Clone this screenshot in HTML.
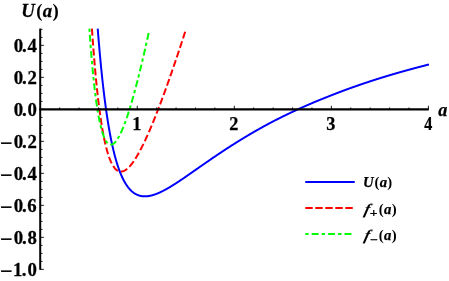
<!DOCTYPE html>
<html><head><meta charset="utf-8"><title>U(a)</title>
<style>
html,body{margin:0;padding:0;background:#fff;}
body{width:449px;height:281px;overflow:hidden;position:relative;font-family:"Liberation Serif",serif;}
</style></head><body>
<svg width="449" height="281" viewBox="0 0 449 281" style="position:absolute;left:0;top:0;will-change:transform">
<rect width="449" height="281" fill="#fff"/>
<g fill="none" stroke-width="2" stroke-linejoin="round">
<path d="M97.72 28.60 L97.87 30.46 L98.11 33.50 L98.35 36.48 L98.59 39.41 L98.83 42.30 L99.07 45.13 L99.31 47.91 L99.55 50.65 L99.79 53.33 L100.03 55.98 L100.27 58.57 L100.51 61.13 L100.75 63.64 L100.99 66.10 L101.23 68.53 L101.47 70.91 L101.71 73.26 L101.95 75.56 L102.19 77.82 L102.43 80.05 L102.67 82.24 L102.91 84.39 L103.15 86.50 L103.39 88.58 L103.63 90.62 L103.87 92.63 L104.11 94.61 L104.35 96.55 L104.59 98.46 L104.83 100.33 L105.07 102.18 L105.31 103.99 L105.55 105.78 L105.79 107.53 L106.03 109.25 L106.27 110.95 L106.51 112.61 L106.75 114.25 L106.99 115.86 L107.23 117.44 L107.47 119.00 L107.71 120.53 L107.95 122.03 L108.18 123.51 L108.42 124.96 L108.66 126.39 L108.90 127.79 L109.14 129.18 L109.38 130.53 L109.62 131.87 L109.86 133.18 L110.10 134.47 L110.34 135.73 L110.58 136.98 L110.82 138.21 L111.06 139.41 L111.30 140.59 L111.54 141.76 L111.78 142.90 L112.02 144.02 L112.26 145.13 L112.50 146.21 L112.74 147.28 L112.98 148.33 L113.22 149.36 L113.46 150.37 L113.70 151.36 L113.94 152.34 L114.18 153.30 L114.42 154.25 L114.66 155.17 L114.90 156.09 L115.14 156.98 L115.38 157.86 L115.62 158.73 L115.86 159.58 L116.10 160.41 L116.34 161.23 L116.58 162.03 L116.82 162.83 L117.06 163.60 L117.30 164.37 L117.54 165.12 L117.78 165.85 L118.02 166.57 L118.26 167.28 L118.50 167.98 L118.74 168.66 L118.98 169.34 L119.22 170.00 L119.46 170.64 L119.70 171.28 L119.94 171.90 L120.18 172.52 L120.42 173.12 L120.66 173.71 L120.90 174.29 L121.14 174.85 L121.38 175.41 L121.62 175.96 L121.86 176.49 L122.10 177.02 L122.34 177.54 L122.58 178.04 L122.82 178.54 L123.06 179.03 L123.30 179.50 L123.54 179.97 L123.78 180.43 L124.02 180.88 L124.26 181.32 L124.50 181.75 L124.74 182.18 L124.98 182.59 L125.22 183.00 L125.46 183.40 L125.70 183.79 L125.94 184.17 L126.18 184.54 L126.42 184.91 L126.66 185.26 L126.90 185.61 L127.14 185.96 L127.38 186.29 L127.62 186.62 L127.86 186.94 L128.10 187.26 L128.34 187.56 L128.58 187.86 L128.82 188.16 L129.06 188.44 L129.30 188.72 L129.54 189.00 L129.78 189.26 L130.02 189.53 L130.26 189.78 L130.50 190.03 L130.74 190.27 L130.98 190.51 L131.22 190.74 L131.46 190.96 L131.70 191.18 L131.94 191.39 L132.18 191.60 L132.42 191.80 L132.66 192.00 L132.90 192.19 L133.14 192.38 L133.38 192.56 L133.62 192.74 L133.86 192.91 L134.10 193.07 L134.34 193.23 L134.58 193.39 L134.82 193.54 L135.06 193.69 L135.30 193.83 L135.54 193.97 L135.78 194.10 L136.02 194.23 L136.26 194.35 L136.50 194.47 L136.74 194.59 L136.98 194.70 L137.22 194.81 L137.46 194.91 L137.70 195.01 L137.94 195.11 L138.18 195.20 L138.42 195.28 L138.66 195.37 L138.90 195.45 L139.14 195.52 L139.38 195.60 L139.62 195.66 L139.86 195.73 L140.10 195.79 L140.34 195.85 L140.58 195.91 L140.82 195.96 L141.06 196.00 L141.30 196.05 L141.54 196.09 L141.78 196.13 L142.02 196.17 L142.26 196.20 L142.50 196.23 L142.74 196.25 L142.98 196.28 L143.22 196.30 L143.46 196.31 L143.70 196.33 L143.94 196.34 L144.18 196.35 L144.42 196.36 L144.66 196.36 L144.90 196.36 L145.14 196.36 L145.38 196.35 L145.62 196.35 L145.86 196.34 L146.10 196.33 L146.34 196.31 L146.58 196.29 L146.82 196.28 L147.05 196.25 L147.29 196.23 L147.53 196.20 L147.77 196.18 L148.01 196.15 L148.25 196.11 L148.49 196.08 L148.73 196.04 L148.97 196.00 L149.21 195.96 L149.45 195.92 L149.69 195.87 L149.93 195.82 L150.17 195.77 L150.41 195.72 L150.65 195.67 L150.89 195.62 L151.13 195.56 L151.37 195.50 L151.61 195.44 L151.85 195.38 L152.09 195.31 L152.33 195.25 L152.57 195.18 L152.81 195.11 L153.05 195.04 L153.29 194.97 L153.53 194.89 L153.77 194.82 L154.01 194.74 L154.25 194.66 L154.49 194.58 L154.73 194.50 L154.97 194.42 L155.21 194.33 L155.45 194.24 L155.69 194.16 L155.93 194.07 L156.17 193.98 L156.41 193.89 L156.65 193.79 L156.89 193.70 L157.13 193.60 L157.37 193.51 L157.61 193.41 L157.85 193.31 L158.09 193.21 L158.33 193.10 L158.57 193.00 L158.81 192.90 L159.05 192.79 L159.29 192.68 L159.53 192.58 L159.77 192.47 L160.01 192.36 L160.25 192.25 L160.49 192.13 L160.73 192.02 L160.97 191.91 L161.21 191.79 L161.45 191.67 L161.69 191.56 L161.93 191.44 L162.17 191.32 L162.41 191.20 L162.65 191.08 L162.89 190.96 L163.13 190.83 L163.37 190.71 L163.61 190.58 L163.85 190.46 L164.09 190.33 L164.33 190.20 L164.57 190.08 L164.81 189.95 L165.05 189.82 L165.29 189.69 L165.53 189.56 L165.77 189.42 L166.01 189.29 L166.25 189.16 L166.49 189.02 L166.73 188.89 L166.97 188.75 L167.21 188.62 L167.45 188.48 L167.69 188.34 L167.93 188.21 L168.17 188.07 L168.41 187.93 L168.65 187.79 L168.89 187.65 L169.13 187.51 L169.37 187.37 L169.61 187.22 L169.85 187.08 L170.09 186.94 L170.33 186.79 L170.57 186.65 L170.81 186.50 L171.05 186.36 L171.29 186.21 L171.53 186.07 L171.77 185.92 L172.01 185.77 L172.25 185.62 L172.49 185.47 L172.73 185.33 L172.97 185.18 L173.21 185.03 L173.45 184.88 L173.69 184.72 L173.93 184.57 L174.17 184.42 L174.41 184.27 L174.65 184.12 L174.89 183.96 L175.13 183.81 L175.37 183.66 L175.61 183.50 L175.85 183.35 L176.09 183.19 L176.33 183.04 L176.57 182.88 L176.81 182.72 L177.05 182.57 L177.29 182.41 L177.53 182.25 L177.77 182.10 L178.01 181.94 L178.25 181.78 L178.49 181.62 L178.73 181.46 L178.97 181.30 L179.21 181.15 L179.45 180.99 L179.69 180.83 L179.93 180.67 L180.17 180.51 L180.41 180.34 L180.65 180.18 L180.89 180.02 L181.13 179.86 L181.37 179.70 L181.61 179.54 L181.85 179.38 L182.09 179.21 L182.33 179.05 L182.57 178.89 L182.81 178.72 L183.05 178.56 L183.29 178.40 L183.53 178.23 L183.77 178.07 L184.01 177.91 L184.25 177.74 L184.49 177.58 L184.73 177.41 L184.97 177.25 L185.21 177.08 L185.45 176.92 L185.69 176.75 L185.92 176.59 L186.16 176.42 L186.40 176.26 L186.64 176.09 L186.88 175.93 L187.12 175.76 L187.36 175.59 L187.60 175.43 L187.84 175.26 L188.08 175.09 L188.32 174.93 L188.56 174.76 L188.80 174.59 L189.04 174.43 L189.28 174.26 L189.52 174.09 L189.76 173.93 L190.00 173.76 L190.24 173.59 L190.48 173.42 L190.72 173.26 L190.96 173.09 L191.20 172.92 L191.44 172.75 L191.68 172.59 L191.92 172.42 L192.16 172.25 L192.40 172.08 L192.64 171.91 L192.88 171.75 L193.12 171.58 L193.36 171.41 L193.60 171.24 L193.84 171.07 L194.08 170.90 L194.32 170.74 L194.56 170.57 L194.80 170.40 L195.04 170.23 L195.28 170.06 L195.52 169.90 L195.76 169.73 L196.00 169.56 L196.24 169.39 L196.48 169.23 L196.72 169.06 L196.96 168.89 L197.20 168.72 L197.44 168.56 L197.68 168.39 L197.92 168.22 L198.16 168.05 L198.40 167.89 L198.64 167.72 L198.88 167.55 L199.12 167.38 L199.36 167.22 L199.60 167.05 L199.84 166.88 L200.08 166.72 L200.32 166.55 L200.56 166.38 L200.80 166.21 L201.04 166.05 L201.28 165.88 L201.52 165.71 L201.76 165.55 L202.00 165.38 L202.24 165.21 L202.48 165.05 L202.72 164.88 L202.96 164.71 L203.20 164.55 L203.44 164.38 L203.68 164.21 L203.92 164.05 L204.16 163.88 L204.40 163.71 L204.64 163.55 L204.88 163.38 L205.12 163.21 L205.36 163.05 L205.60 162.88 L205.84 162.72 L206.08 162.55 L206.32 162.38 L206.56 162.22 L206.80 162.05 L207.04 161.89 L207.28 161.72 L207.52 161.56 L207.76 161.39 L208.00 161.23 L208.24 161.06 L208.48 160.90 L208.72 160.73 L208.96 160.57 L209.20 160.40 L209.44 160.24 L209.68 160.07 L209.92 159.91 L210.16 159.74 L210.40 159.58 L210.64 159.41 L210.88 159.25 L211.12 159.09 L211.36 158.92 L211.60 158.76 L211.84 158.59 L212.08 158.43 L212.32 158.27 L212.56 158.10 L212.80 157.94 L213.04 157.78 L213.28 157.61 L213.52 157.45 L213.76 157.29 L214.00 157.12 L214.24 156.96 L214.48 156.80 L214.72 156.64 L214.96 156.47 L215.20 156.31 L215.44 156.15 L215.68 155.99 L215.92 155.83 L216.16 155.66 L216.40 155.50 L216.64 155.34 L216.88 155.18 L217.12 155.02 L217.36 154.86 L217.60 154.70 L217.84 154.54 L218.08 154.38 L218.32 154.21 L218.56 154.05 L218.80 153.89 L219.04 153.73 L219.28 153.57 L219.52 153.41 L219.76 153.25 L220.00 153.09 L220.24 152.93 L220.48 152.78 L220.72 152.62 L220.96 152.46 L221.20 152.30 L221.44 152.14 L221.68 151.98 L221.92 151.82 L222.16 151.66 L222.40 151.50 L222.64 151.34 L222.88 151.18 L223.12 151.03 L223.36 150.87 L223.60 150.71 L223.84 150.55 L224.08 150.39 L224.32 150.23 L224.55 150.08 L224.79 149.92 L225.03 149.76 L225.27 149.60 L225.51 149.45 L225.75 149.29 L225.99 149.13 L226.23 148.98 L226.47 148.82 L226.71 148.66 L226.95 148.51 L227.19 148.35 L227.43 148.19 L227.67 148.04 L227.91 147.88 L228.15 147.73 L228.39 147.57 L228.63 147.42 L228.87 147.26 L229.11 147.11 L229.35 146.95 L229.59 146.80 L229.83 146.64 L230.07 146.49 L230.31 146.33 L230.55 146.18 L230.79 146.02 L231.03 145.87 L231.27 145.72 L231.51 145.56 L231.75 145.41 L231.99 145.26 L232.23 145.10 L232.47 144.95 L232.71 144.80 L232.95 144.65 L233.19 144.49 L233.43 144.34 L233.67 144.19 L233.91 144.04 L234.15 143.89 L234.39 143.73 L234.63 143.58 L234.87 143.43 L235.11 143.28 L235.35 143.13 L235.59 142.98 L235.83 142.83 L236.07 142.68 L236.31 142.53 L236.55 142.38 L236.79 142.23 L237.03 142.08 L237.27 141.93 L237.51 141.78 L237.75 141.63 L237.99 141.48 L238.23 141.33 L238.47 141.18 L238.71 141.03 L238.95 140.88 L239.19 140.74 L239.43 140.59 L239.67 140.44 L239.91 140.29 L240.15 140.14 L240.39 140.00 L240.63 139.85 L240.87 139.70 L241.11 139.55 L241.35 139.41 L241.59 139.26 L241.83 139.11 L242.07 138.97 L242.31 138.82 L242.55 138.68 L242.79 138.53 L243.03 138.38 L243.27 138.24 L243.51 138.09 L243.75 137.95 L243.99 137.80 L244.23 137.66 L244.47 137.51 L244.71 137.37 L244.95 137.22 L245.19 137.08 L245.43 136.93 L245.67 136.79 L245.91 136.65 L246.15 136.50 L246.39 136.36 L246.63 136.22 L246.87 136.07 L247.11 135.93 L247.35 135.79 L247.59 135.65 L247.83 135.50 L248.07 135.36 L248.31 135.22 L248.55 135.08 L248.79 134.93 L249.03 134.79 L249.27 134.65 L249.51 134.51 L249.75 134.37 L249.99 134.23 L250.23 134.09 L250.47 133.95 L250.71 133.81 L250.95 133.67 L251.19 133.53 L251.43 133.39 L251.67 133.25 L251.91 133.11 L252.15 132.97 L252.39 132.83 L252.63 132.69 L252.87 132.55 L253.11 132.41 L253.35 132.27 L253.59 132.13 L253.83 131.99 L254.07 131.86 L254.31 131.72 L254.55 131.58 L254.79 131.44 L255.03 131.31 L255.27 131.17 L255.51 131.03 L255.75 130.89 L255.99 130.76 L256.23 130.62 L256.47 130.48 L256.71 130.35 L256.95 130.21 L257.19 130.08 L257.43 129.94 L257.67 129.80 L257.91 129.67 L258.15 129.53 L258.39 129.40 L258.63 129.26 L258.87 129.13 L259.11 128.99 L259.35 128.86 L259.59 128.72 L259.83 128.59 L260.07 128.46 L260.31 128.32 L260.55 128.19 L260.79 128.05 L261.03 127.92 L261.27 127.79 L261.51 127.65 L261.75 127.52 L261.99 127.39 L262.23 127.26 L262.47 127.12 L262.71 126.99 L262.95 126.86 L263.19 126.73 L263.42 126.60 L263.66 126.46 L263.90 126.33 L264.14 126.20 L264.38 126.07 L264.62 125.94 L264.86 125.81 L265.10 125.68 L265.34 125.55 L265.58 125.42 L265.82 125.29 L266.06 125.16 L266.30 125.03 L266.54 124.90 L266.78 124.77 L267.02 124.64 L267.26 124.51 L267.50 124.38 L267.74 124.25 L267.98 124.12 L268.22 123.99 L268.46 123.87 L268.70 123.74 L268.94 123.61 L269.18 123.48 L269.42 123.35 L269.66 123.23 L269.90 123.10 L270.14 122.97 L270.38 122.84 L270.62 122.72 L270.86 122.59 L271.10 122.47 L271.34 122.34 L271.58 122.21 L271.82 122.09 L272.06 121.96 L272.30 121.84 L272.54 121.71 L272.78 121.59 L273.02 121.46 L273.26 121.34 L273.50 121.21 L273.74 121.09 L273.98 120.97 L274.22 120.84 L274.46 120.72 L274.70 120.60 L274.94 120.47 L275.18 120.35 L275.42 120.23 L275.66 120.10 L275.90 119.98 L276.14 119.86 L276.38 119.73 L276.62 119.61 L276.86 119.49 L277.10 119.37 L277.34 119.25 L277.58 119.12 L277.82 119.00 L278.06 118.88 L278.30 118.76 L278.54 118.64 L278.78 118.52 L279.02 118.40 L279.26 118.28 L279.50 118.15 L279.74 118.03 L279.98 117.91 L280.22 117.79 L280.46 117.67 L280.70 117.55 L280.94 117.43 L281.18 117.32 L281.42 117.20 L281.66 117.08 L281.90 116.96 L282.14 116.84 L282.38 116.72 L282.62 116.60 L282.86 116.48 L283.10 116.36 L283.34 116.25 L283.58 116.13 L283.82 116.01 L284.06 115.89 L284.30 115.78 L284.54 115.66 L284.78 115.54 L285.02 115.42 L285.26 115.31 L285.50 115.19 L285.74 115.07 L285.98 114.96 L286.22 114.84 L286.46 114.72 L286.70 114.61 L286.94 114.49 L287.18 114.38 L287.42 114.26 L287.66 114.15 L287.90 114.03 L288.14 113.91 L288.38 113.80 L288.62 113.68 L288.86 113.57 L289.10 113.46 L289.34 113.34 L289.58 113.23 L289.82 113.11 L290.06 113.00 L290.30 112.88 L290.54 112.77 L290.78 112.66 L291.02 112.54 L291.26 112.43 L291.50 112.32 L291.74 112.20 L291.98 112.09 L292.22 111.98 L292.46 111.87 L292.70 111.75 L292.94 111.64 L293.18 111.53 L293.42 111.42 L293.66 111.30 L293.90 111.19 L294.14 111.08 L294.38 110.97 L294.62 110.86 L294.86 110.75 L295.10 110.64 L295.34 110.52 L295.58 110.41 L295.82 110.30 L296.06 110.19 L296.30 110.08 L296.54 109.97 L296.78 109.86 L297.02 109.75 L297.26 109.64 L297.50 109.53 L297.74 109.42 L297.98 109.31 L298.22 109.20 L298.46 109.10 L298.70 108.99 L298.94 108.88 L299.18 108.77 L299.42 108.66 L299.66 108.55 L299.90 108.44 L300.14 108.34 L300.38 108.23 L300.62 108.12 L300.86 108.01 L301.10 107.90 L301.34 107.80 L301.58 107.69 L301.82 107.58 L302.06 107.47 L302.29 107.37 L302.53 107.26 L302.77 107.15 L303.01 107.05 L303.25 106.94 L303.49 106.83 L303.73 106.73 L303.97 106.62 L304.21 106.52 L304.45 106.41 L304.69 106.31 L304.93 106.20 L305.17 106.09 L305.41 105.99 L305.65 105.88 L305.89 105.78 L306.13 105.67 L306.37 105.57 L306.61 105.46 L306.85 105.36 L307.09 105.26 L307.33 105.15 L307.57 105.05 L307.81 104.94 L308.05 104.84 L308.29 104.74 L308.53 104.63 L308.77 104.53 L309.01 104.43 L309.25 104.32 L309.49 104.22 L309.73 104.12 L309.97 104.01 L310.21 103.91 L310.45 103.81 L310.69 103.71 L310.93 103.60 L311.17 103.50 L311.41 103.40 L311.65 103.30 L311.89 103.20 L312.13 103.10 L312.37 102.99 L312.61 102.89 L312.85 102.79 L313.09 102.69 L313.33 102.59 L313.57 102.49 L313.81 102.39 L314.05 102.29 L314.29 102.19 L314.53 102.09 L314.77 101.99 L315.01 101.89 L315.25 101.79 L315.49 101.69 L315.73 101.59 L315.97 101.49 L316.21 101.39 L316.45 101.29 L316.69 101.19 L316.93 101.09 L317.17 100.99 L317.41 100.89 L317.65 100.79 L317.89 100.69 L318.13 100.60 L318.37 100.50 L318.61 100.40 L318.85 100.30 L319.09 100.20 L319.33 100.10 L319.57 100.01 L319.81 99.91 L320.05 99.81 L320.29 99.71 L320.53 99.62 L320.77 99.52 L321.01 99.42 L321.25 99.33 L321.49 99.23 L321.73 99.13 L321.97 99.04 L322.21 98.94 L322.45 98.84 L322.69 98.75 L322.93 98.65 L323.17 98.55 L323.41 98.46 L323.65 98.36 L323.89 98.27 L324.13 98.17 L324.37 98.08 L324.61 97.98 L324.85 97.89 L325.09 97.79 L325.33 97.70 L325.57 97.60 L325.81 97.50 L326.05 97.41 L326.29 97.31 L326.53 97.21 L326.77 97.11 L327.01 97.02 L327.25 96.92 L327.49 96.82 L327.73 96.73 L327.97 96.63 L328.21 96.54 L328.45 96.44 L328.69 96.34 L328.93 96.25 L329.17 96.15 L329.41 96.06 L329.65 95.96 L329.89 95.87 L330.13 95.77 L330.37 95.68 L330.61 95.58 L330.85 95.49 L331.09 95.39 L331.33 95.30 L331.57 95.20 L331.81 95.11 L332.05 95.01 L332.29 94.92 L332.53 94.82 L332.77 94.73 L333.01 94.64 L333.25 94.54 L333.49 94.45 L333.73 94.36 L333.97 94.26 L334.21 94.17 L334.45 94.08 L334.69 93.98 L334.93 93.89 L335.17 93.80 L335.41 93.70 L335.65 93.61 L335.89 93.52 L336.13 93.43 L336.37 93.33 L336.61 93.24 L336.85 93.15 L337.09 93.06 L337.33 92.97 L337.57 92.87 L337.81 92.78 L338.05 92.69 L338.29 92.60 L338.53 92.51 L338.77 92.42 L339.01 92.33 L339.25 92.23 L339.49 92.14 L339.73 92.05 L339.97 91.96 L340.21 91.87 L340.45 91.78 L340.69 91.69 L340.92 91.60 L341.16 91.51 L341.40 91.42 L341.64 91.33 L341.88 91.24 L342.12 91.15 L342.36 91.06 L342.60 90.97 L342.84 90.88 L343.08 90.79 L343.32 90.70 L343.56 90.61 L343.80 90.52 L344.04 90.44 L344.28 90.35 L344.52 90.26 L344.76 90.17 L345.00 90.08 L345.24 89.99 L345.48 89.90 L345.72 89.82 L345.96 89.73 L346.20 89.64 L346.44 89.55 L346.68 89.46 L346.92 89.38 L347.16 89.29 L347.40 89.20 L347.64 89.11 L347.88 89.03 L348.12 88.94 L348.36 88.85 L348.60 88.76 L348.84 88.68 L349.08 88.59 L349.32 88.50 L349.56 88.42 L349.80 88.33 L350.04 88.24 L350.28 88.16 L350.52 88.07 L350.76 87.99 L351.00 87.90 L351.24 87.81 L351.48 87.73 L351.72 87.64 L351.96 87.56 L352.20 87.47 L352.44 87.39 L352.68 87.30 L352.92 87.21 L353.16 87.13 L353.40 87.04 L353.64 86.96 L353.88 86.87 L354.12 86.79 L354.36 86.71 L354.60 86.62 L354.84 86.54 L355.08 86.45 L355.32 86.37 L355.56 86.28 L355.80 86.20 L356.04 86.12 L356.28 86.03 L356.52 85.95 L356.76 85.86 L357.00 85.78 L357.24 85.70 L357.48 85.61 L357.72 85.53 L357.96 85.45 L358.20 85.36 L358.44 85.28 L358.68 85.20 L358.92 85.12 L359.16 85.03 L359.40 84.95 L359.64 84.87 L359.88 84.78 L360.12 84.70 L360.36 84.62 L360.60 84.54 L360.84 84.46 L361.08 84.37 L361.32 84.29 L361.56 84.21 L361.80 84.13 L362.04 84.05 L362.28 83.97 L362.52 83.88 L362.76 83.80 L363.00 83.72 L363.24 83.64 L363.48 83.56 L363.72 83.48 L363.96 83.40 L364.20 83.32 L364.44 83.24 L364.68 83.15 L364.92 83.07 L365.16 82.99 L365.40 82.91 L365.64 82.83 L365.88 82.75 L366.12 82.67 L366.36 82.59 L366.60 82.51 L366.84 82.43 L367.08 82.35 L367.32 82.27 L367.56 82.19 L367.80 82.11 L368.04 82.04 L368.28 81.96 L368.52 81.88 L368.76 81.80 L369.00 81.72 L369.24 81.64 L369.48 81.56 L369.72 81.48 L369.96 81.40 L370.20 81.32 L370.44 81.25 L370.68 81.17 L370.92 81.09 L371.16 81.01 L371.40 80.93 L371.64 80.86 L371.88 80.78 L372.12 80.70 L372.36 80.62 L372.60 80.54 L372.84 80.47 L373.08 80.39 L373.32 80.31 L373.56 80.23 L373.80 80.16 L374.04 80.08 L374.28 80.00 L374.52 79.93 L374.76 79.85 L375.00 79.77 L375.24 79.69 L375.48 79.62 L375.72 79.54 L375.96 79.46 L376.20 79.39 L376.44 79.31 L376.68 79.24 L376.92 79.16 L377.16 79.08 L377.40 79.01 L377.64 78.93 L377.88 78.86 L378.12 78.78 L378.36 78.70 L378.60 78.63 L378.84 78.55 L379.08 78.48 L379.32 78.40 L379.56 78.33 L379.79 78.25 L380.03 78.18 L380.27 78.10 L380.51 78.03 L380.75 77.95 L380.99 77.88 L381.23 77.80 L381.47 77.73 L381.71 77.65 L381.95 77.58 L382.19 77.50 L382.43 77.43 L382.67 77.36 L382.91 77.28 L383.15 77.21 L383.39 77.14 L383.63 77.06 L383.87 76.99 L384.11 76.92 L384.35 76.84 L384.59 76.77 L384.83 76.70 L385.07 76.62 L385.31 76.55 L385.55 76.48 L385.79 76.40 L386.03 76.33 L386.27 76.26 L386.51 76.19 L386.75 76.11 L386.99 76.04 L387.23 75.97 L387.47 75.90 L387.71 75.82 L387.95 75.75 L388.19 75.68 L388.43 75.61 L388.67 75.54 L388.91 75.46 L389.15 75.39 L389.39 75.32 L389.63 75.25 L389.87 75.18 L390.11 75.11 L390.35 75.03 L390.59 74.96 L390.83 74.89 L391.07 74.82 L391.31 74.75 L391.55 74.68 L391.79 74.61 L392.03 74.54 L392.27 74.47 L392.51 74.40 L392.75 74.33 L392.99 74.26 L393.23 74.18 L393.47 74.11 L393.71 74.04 L393.95 73.97 L394.19 73.90 L394.43 73.83 L394.67 73.76 L394.91 73.69 L395.15 73.62 L395.39 73.55 L395.63 73.48 L395.87 73.41 L396.11 73.35 L396.35 73.28 L396.59 73.21 L396.83 73.14 L397.07 73.07 L397.31 73.00 L397.55 72.93 L397.79 72.86 L398.03 72.79 L398.27 72.72 L398.51 72.65 L398.75 72.59 L398.99 72.52 L399.23 72.45 L399.47 72.38 L399.71 72.31 L399.95 72.24 L400.19 72.17 L400.43 72.11 L400.67 72.04 L400.91 71.97 L401.15 71.90 L401.39 71.83 L401.63 71.77 L401.87 71.70 L402.11 71.63 L402.35 71.56 L402.59 71.50 L402.83 71.43 L403.07 71.36 L403.31 71.29 L403.55 71.23 L403.79 71.16 L404.03 71.09 L404.27 71.02 L404.51 70.96 L404.75 70.89 L404.99 70.82 L405.23 70.76 L405.47 70.69 L405.71 70.62 L405.95 70.56 L406.19 70.49 L406.43 70.42 L406.67 70.36 L406.91 70.29 L407.15 70.22 L407.39 70.16 L407.63 70.09 L407.87 70.03 L408.11 69.96 L408.35 69.89 L408.59 69.83 L408.83 69.76 L409.07 69.70 L409.31 69.63 L409.55 69.57 L409.79 69.50 L410.03 69.44 L410.27 69.37 L410.51 69.30 L410.75 69.24 L410.99 69.17 L411.23 69.11 L411.47 69.04 L411.71 68.98 L411.95 68.91 L412.19 68.85 L412.43 68.78 L412.67 68.72 L412.91 68.66 L413.15 68.59 L413.39 68.53 L413.63 68.46 L413.87 68.40 L414.11 68.33 L414.35 68.27 L414.59 68.21 L414.83 68.14 L415.07 68.08 L415.31 68.01 L415.55 67.95 L415.79 67.89 L416.03 67.82 L416.27 67.76 L416.51 67.69 L416.75 67.63 L416.99 67.57 L417.23 67.50 L417.47 67.44 L417.71 67.38 L417.95 67.31 L418.19 67.25 L418.43 67.19 L418.66 67.12 L418.90 67.06 L419.14 67.00 L419.38 66.94 L419.62 66.87 L419.86 66.81 L420.10 66.75 L420.34 66.69 L420.58 66.62 L420.82 66.56 L421.06 66.50 L421.30 66.44 L421.54 66.37 L421.78 66.31 L422.02 66.25 L422.26 66.19 L422.50 66.12 L422.74 66.06 L422.98 66.00 L423.22 65.94 L423.46 65.88 L423.70 65.82 L423.94 65.75 L424.18 65.69 L424.42 65.63 L424.66 65.57 L424.90 65.51 L425.14 65.45 L425.38 65.39 L425.62 65.32 L425.86 65.26 L426.10 65.20 L426.34 65.14 L426.58 65.08 L426.82 65.02 L427.06 64.96 L427.30 64.90 L427.54 64.84 L427.78 64.78 L428.02 64.72 L428.26 64.66 L428.50 64.59 L428.74 64.54 L428.98 64.48" stroke="#0000ff"/>
<path d="M91.94 28.60 L92.16 31.87 L92.40 35.35 L92.65 38.76 L92.89 42.09 L93.13 45.36 L93.37 48.56 L93.62 51.69 L93.86 54.75 L94.10 57.75 L94.35 60.69 L94.59 63.56 L94.83 66.38 L95.08 69.13 L95.32 71.83 L95.56 74.46 L95.81 77.05 L96.05 79.57 L96.29 82.05 L96.53 84.47 L96.78 86.84 L97.02 89.15 L97.26 91.42 L97.51 93.64 L97.75 95.81 L97.99 97.94 L98.24 100.02 L98.48 102.05 L98.72 104.04 L98.96 105.99 L99.21 107.89 L99.45 109.75 L99.69 111.57 L99.94 113.35 L100.18 115.09 L100.42 116.79 L100.67 118.46 L100.91 120.08 L101.15 121.67 L101.39 123.23 L101.64 124.74 L101.88 126.23 L102.12 127.68 L102.37 129.09 L102.61 130.48 L102.85 131.83 L103.10 133.15 L103.34 134.44 L103.58 135.70 L103.83 136.92 L104.07 138.12 L104.31 139.29 L104.55 140.43 L104.80 141.55 L105.04 142.63 L105.28 143.69 L105.53 144.73 L105.77 145.73 L106.01 146.71 L106.26 147.67 L106.50 148.60 L106.74 149.51 L106.98 150.39 L107.23 151.25 L107.47 152.09 L107.71 152.90 L107.96 153.69 L108.20 154.46 L108.44 155.21 L108.69 155.94 L108.93 156.65 L109.17 157.33 L109.41 158.00 L109.66 158.64 L109.90 159.27 L110.14 159.88 L110.39 160.47 L110.63 161.04 L110.87 161.59 L111.12 162.12 L111.36 162.64 L111.60 163.14 L111.85 163.62 L112.09 164.09 L112.33 164.54 L112.57 164.97 L112.82 165.39 L113.06 165.79 L113.30 166.17 L113.55 166.54 L113.79 166.90 L114.03 167.24 L114.28 167.56 L114.52 167.87 L114.76 168.17 L115.00 168.46 L115.25 168.73 L115.49 168.98 L115.73 169.23 L115.98 169.46 L116.22 169.67 L116.46 169.88 L116.71 170.07 L116.95 170.25 L117.19 170.42 L117.43 170.57 L117.68 170.72 L117.92 170.85 L118.16 170.97 L118.41 171.08 L118.65 171.18 L118.89 171.27 L119.14 171.35 L119.38 171.42 L119.62 171.47 L119.87 171.52 L120.11 171.56 L120.35 171.59 L120.59 171.60 L120.84 171.61 L121.08 171.61 L121.32 171.60 L121.57 171.58 L121.81 171.55 L122.05 171.51 L122.30 171.46 L122.54 171.40 L122.78 171.34 L123.02 171.27 L123.27 171.18 L123.51 171.09 L123.75 171.00 L124.00 170.89 L124.24 170.78 L124.48 170.65 L124.73 170.53 L124.97 170.39 L125.21 170.24 L125.45 170.09 L125.70 169.93 L125.94 169.77 L126.18 169.60 L126.43 169.42 L126.67 169.23 L126.91 169.04 L127.16 168.84 L127.40 168.63 L127.64 168.42 L127.89 168.20 L128.13 167.97 L128.37 167.74 L128.61 167.50 L128.86 167.25 L129.10 167.00 L129.34 166.75 L129.59 166.49 L129.83 166.22 L130.07 165.94 L130.32 165.67 L130.56 165.38 L130.80 165.09 L131.04 164.79 L131.29 164.49 L131.53 164.19 L131.77 163.88 L132.02 163.56 L132.26 163.24 L132.50 162.91 L132.75 162.58 L132.99 162.24 L133.23 161.90 L133.47 161.56 L133.72 161.21 L133.96 160.85 L134.20 160.49 L134.45 160.13 L134.69 159.76 L134.93 159.39 L135.18 159.01 L135.42 158.63 L135.66 158.24 L135.91 157.85 L136.15 157.46 L136.39 157.06 L136.63 156.66 L136.88 156.25 L137.12 155.84 L137.36 155.43 L137.61 155.01 L137.85 154.59 L138.09 154.16 L138.34 153.73 L138.58 153.30 L138.82 152.87 L139.06 152.43 L139.31 151.98 L139.55 151.53 L139.79 151.08 L140.04 150.63 L140.28 150.17 L140.52 149.71 L140.77 149.25 L141.01 148.78 L141.25 148.31 L141.49 147.84 L141.74 147.36 L141.98 146.88 L142.22 146.40 L142.47 145.91 L142.71 145.42 L142.95 144.93 L143.20 144.44 L143.44 143.94 L143.68 143.44 L143.93 142.94 L144.17 142.43 L144.41 141.92 L144.65 141.41 L144.90 140.89 L145.14 140.38 L145.38 139.86 L145.63 139.33 L145.87 138.81 L146.11 138.28 L146.36 137.75 L146.60 137.22 L146.84 136.68 L147.08 136.15 L147.33 135.60 L147.57 135.06 L147.81 134.52 L148.06 133.97 L148.30 133.42 L148.54 132.87 L148.79 132.31 L149.03 131.76 L149.27 131.20 L149.51 130.64 L149.76 130.07 L150.00 129.51 L150.24 128.94 L150.49 128.37 L150.73 127.80 L150.97 127.22 L151.22 126.65 L151.46 126.07 L151.70 125.49 L151.95 124.91 L152.19 124.32 L152.43 123.73 L152.67 123.15 L152.92 122.56 L153.16 121.96 L153.40 121.37 L153.65 120.77 L153.89 120.18 L154.13 119.58 L154.38 118.97 L154.62 118.37 L154.86 117.77 L155.10 117.16 L155.35 116.55 L155.59 115.94 L155.83 115.33 L156.08 114.71 L156.32 114.10 L156.56 113.48 L156.81 112.86 L157.05 112.24 L157.29 111.62 L157.53 110.99 L157.78 110.37 L158.02 109.74 L158.26 109.11 L158.51 108.48 L158.75 107.85 L158.99 107.21 L159.24 106.58 L159.48 105.94 L159.72 105.30 L159.97 104.66 L160.21 104.02 L160.45 103.38 L160.69 102.73 L160.94 102.09 L161.18 101.44 L161.42 100.79 L161.67 100.14 L161.91 99.49 L162.15 98.84 L162.40 98.18 L162.64 97.53 L162.88 96.87 L163.12 96.21 L163.37 95.55 L163.61 94.89 L163.85 94.23 L164.10 93.56 L164.34 92.90 L164.58 92.23 L164.83 91.56 L165.07 90.89 L165.31 90.22 L165.55 89.55 L165.80 88.88 L166.04 88.20 L166.28 87.53 L166.53 86.85 L166.77 86.17 L167.01 85.50 L167.26 84.81 L167.50 84.13 L167.74 83.45 L167.99 82.77 L168.23 82.08 L168.47 81.39 L168.71 80.71 L168.96 80.02 L169.20 79.33 L169.44 78.64 L169.69 77.95 L169.93 77.25 L170.17 76.56 L170.42 75.86 L170.66 75.17 L170.90 74.47 L171.14 73.77 L171.39 73.07 L171.63 72.37 L171.87 71.67 L172.12 70.96 L172.36 70.26 L172.60 69.56 L172.85 68.85 L173.09 68.14 L173.33 67.43 L173.57 66.72 L173.82 66.01 L174.06 65.30 L174.30 64.59 L174.55 63.88 L174.79 63.16 L175.03 62.45 L175.28 61.73 L175.52 61.01 L175.76 60.29 L176.01 59.57 L176.25 58.85 L176.49 58.13 L176.73 57.41 L176.98 56.69 L177.22 55.96 L177.46 55.24 L177.71 54.51 L177.95 53.79 L178.19 53.06 L178.44 52.33 L178.68 51.60 L178.92 50.87 L179.16 50.14 L179.41 49.40 L179.65 48.67 L179.89 47.94 L180.14 47.20 L180.38 46.46 L180.62 45.73 L180.87 44.99 L181.11 44.25 L181.35 43.51 L181.59 42.77 L181.84 42.03 L182.08 41.28 L182.32 40.54 L182.57 39.80 L182.81 39.05 L183.05 38.31 L183.30 37.56 L183.54 36.81 L183.78 36.06 L184.03 35.31 L184.27 34.56 L184.51 33.81 L184.75 33.06 L185.00 32.31 L185.24 31.55 L185.48 30.80" stroke="#ff0000" stroke-dasharray="7 2.98"/>
<path d="M89.39 28.60 L89.54 30.77 L89.75 33.80 L89.96 36.78 L90.17 39.68 L90.38 42.53 L90.59 45.32 L90.80 48.05 L91.01 50.72 L91.22 53.34 L91.43 55.90 L91.64 58.41 L91.85 60.86 L92.06 63.26 L92.27 65.61 L92.48 67.91 L92.69 70.16 L92.91 72.36 L93.12 74.51 L93.33 76.61 L93.54 78.67 L93.75 80.69 L93.96 82.66 L94.17 84.58 L94.38 86.47 L94.59 88.31 L94.80 90.10 L95.01 91.86 L95.22 93.58 L95.43 95.26 L95.64 96.90 L95.85 98.50 L96.06 100.07 L96.28 101.59 L96.49 103.09 L96.70 104.54 L96.91 105.96 L97.12 107.35 L97.33 108.70 L97.54 110.02 L97.75 111.31 L97.96 112.57 L98.17 113.79 L98.38 114.98 L98.59 116.15 L98.80 117.28 L99.01 118.38 L99.22 119.46 L99.43 120.50 L99.65 121.52 L99.86 122.51 L100.07 123.47 L100.28 124.41 L100.49 125.31 L100.70 126.20 L100.91 127.06 L101.12 127.89 L101.33 128.70 L101.54 129.48 L101.75 130.24 L101.96 130.97 L102.17 131.69 L102.38 132.38 L102.59 133.04 L102.80 133.69 L103.02 134.31 L103.23 134.91 L103.44 135.49 L103.65 136.05 L103.86 136.59 L104.07 137.11 L104.28 137.61 L104.49 138.09 L104.70 138.55 L104.91 138.99 L105.12 139.41 L105.33 139.82 L105.54 140.20 L105.75 140.57 L105.96 140.92 L106.17 141.25 L106.39 141.57 L106.60 141.87 L106.81 142.15 L107.02 142.41 L107.23 142.66 L107.44 142.89 L107.65 143.11 L107.86 143.31 L108.07 143.50 L108.28 143.67 L108.49 143.83 L108.70 143.97 L108.91 144.10 L109.12 144.21 L109.33 144.31 L109.54 144.39 L109.76 144.47 L109.97 144.52 L110.18 144.57 L110.39 144.60 L110.60 144.62 L110.81 144.62 L111.02 144.62 L111.23 144.60 L111.44 144.57 L111.65 144.52 L111.86 144.47 L112.07 144.40 L112.28 144.32 L112.49 144.23 L112.70 144.13 L112.91 144.02 L113.13 143.89 L113.34 143.76 L113.55 143.61 L113.76 143.46 L113.97 143.29 L114.18 143.11 L114.39 142.93 L114.60 142.73 L114.81 142.52 L115.02 142.31 L115.23 142.08 L115.44 141.84 L115.65 141.60 L115.86 141.34 L116.07 141.08 L116.28 140.81 L116.50 140.52 L116.71 140.23 L116.92 139.93 L117.13 139.62 L117.34 139.31 L117.55 138.98 L117.76 138.65 L117.97 138.31 L118.18 137.96 L118.39 137.60 L118.60 137.23 L118.81 136.86 L119.02 136.48 L119.23 136.09 L119.44 135.69 L119.65 135.28 L119.87 134.87 L120.08 134.45 L120.29 134.03 L120.50 133.59 L120.71 133.15 L120.92 132.70 L121.13 132.25 L121.34 131.79 L121.55 131.32 L121.76 130.84 L121.97 130.36 L122.18 129.87 L122.39 129.38 L122.60 128.88 L122.81 128.37 L123.02 127.86 L123.24 127.34 L123.45 126.81 L123.66 126.28 L123.87 125.74 L124.08 125.20 L124.29 124.65 L124.50 124.09 L124.71 123.53 L124.92 122.97 L125.13 122.39 L125.34 121.82 L125.55 121.23 L125.76 120.64 L125.97 120.05 L126.18 119.45 L126.39 118.84 L126.61 118.23 L126.82 117.62 L127.03 117.00 L127.24 116.37 L127.45 115.74 L127.66 115.11 L127.87 114.47 L128.08 113.82 L128.29 113.17 L128.50 112.52 L128.71 111.86 L128.92 111.19 L129.13 110.53 L129.34 109.85 L129.55 109.17 L129.76 108.49 L129.98 107.81 L130.19 107.11 L130.40 106.42 L130.61 105.72 L130.82 105.01 L131.03 104.31 L131.24 103.59 L131.45 102.88 L131.66 102.16 L131.87 101.43 L132.08 100.70 L132.29 99.97 L132.50 99.23 L132.71 98.49 L132.92 97.75 L133.13 97.00 L133.35 96.25 L133.56 95.49 L133.77 94.73 L133.98 93.96 L134.19 93.20 L134.40 92.43 L134.61 91.65 L134.82 90.87 L135.03 90.09 L135.24 89.30 L135.45 88.52 L135.66 87.72 L135.87 86.93 L136.08 86.13 L136.29 85.32 L136.50 84.52 L136.72 83.71 L136.93 82.90 L137.14 82.08 L137.35 81.26 L137.56 80.44 L137.77 79.61 L137.98 78.78 L138.19 77.95 L138.40 77.11 L138.61 76.27 L138.82 75.43 L139.03 74.59 L139.24 73.74 L139.45 72.89 L139.66 72.04 L139.87 71.18 L140.09 70.32 L140.30 69.46 L140.51 68.59 L140.72 67.72 L140.93 66.85 L141.14 65.98 L141.35 65.10 L141.56 64.22 L141.77 63.34 L141.98 62.45 L142.19 61.56 L142.40 60.67 L142.61 59.78 L142.82 58.88 L143.03 57.98 L143.24 57.08 L143.46 56.18 L143.67 55.27 L143.88 54.36 L144.09 53.45 L144.30 52.53 L144.51 51.61 L144.72 50.69 L144.93 49.77 L145.14 48.85 L145.35 47.92 L145.56 46.99 L145.77 46.06 L145.98 45.12 L146.19 44.18 L146.40 43.25 L146.61 42.30 L146.83 41.36 L147.04 40.41 L147.25 39.46 L147.46 38.51 L147.67 37.56 L147.88 36.60 L148.09 35.64 L148.30 34.68 L148.51 33.72 L148.72 32.75" stroke="#00ff00" stroke-dasharray="3.3 3 6.92 3"/>
</g>
<g stroke="#000" fill="none">
<path d="M40.20 28.60 V269.75" stroke-width="2"/>
<path d="M39.30 109.35 H428.80" stroke-width="2.1"/>
<path d="M40.20 269.35 H43.90 M40.20 261.35 H42.50 M40.20 253.35 H42.50 M40.20 245.35 H42.50 M40.20 237.35 H43.90 M40.20 229.35 H42.50 M40.20 221.35 H42.50 M40.20 213.35 H42.50 M40.20 205.35 H43.90 M40.20 197.35 H42.50 M40.20 189.35 H42.50 M40.20 181.35 H42.50 M40.20 173.35 H43.90 M40.20 165.35 H42.50 M40.20 157.35 H42.50 M40.20 149.35 H42.50 M40.20 141.35 H43.90 M40.20 133.35 H42.50 M40.20 125.35 H42.50 M40.20 117.35 H42.50 M40.20 109.35 H43.90 M40.20 101.35 H42.50 M40.20 93.35 H42.50 M40.20 85.35 H42.50 M40.20 77.35 H43.90 M40.20 69.35 H42.50 M40.20 61.35 H42.50 M40.20 53.35 H42.50 M40.20 45.35 H43.90 M40.20 37.35 H42.50 M40.20 29.35 H42.50 M59.61 109.35 V107.45 M79.02 109.35 V107.45 M98.43 109.35 V107.45 M117.84 109.35 V107.45 M137.25 109.35 V105.75 M156.66 109.35 V107.45 M176.07 109.35 V107.45 M195.48 109.35 V107.45 M214.89 109.35 V107.45 M234.30 109.35 V105.75 M253.71 109.35 V107.45 M273.12 109.35 V107.45 M292.53 109.35 V107.45 M311.94 109.35 V107.45 M331.35 109.35 V105.75 M350.76 109.35 V107.45 M370.17 109.35 V107.45 M389.58 109.35 V107.45 M408.99 109.35 V107.45 M428.40 109.35 V105.75" stroke-width="0.9"/>
</g>
<g fill="none" stroke-width="2">
<path d="M305.25 182.1 H354.75" stroke="#0000ff"/>
<path d="M305.3 207.9 H353" stroke="#ff0000" stroke-dasharray="7.45 2.55"/>
<path d="M305.25 234 H351.6" stroke="#00ff00" stroke-dasharray="3.4 3 7 3"/>
</g>
<g font-family="'Liberation Serif', serif" fill="#000" stroke="#000" stroke-width="0.25"><text transform="translate(0 16.65) scale(1.0500 1)" font-size="17.85" font-weight="bold" ><tspan x="20.31" font-style="italic">U</tspan><tspan x="34.50" stroke="none">(</tspan><tspan x="40.60" font-style="italic">a</tspan><tspan x="50.00" stroke="none">)</tspan></text>
<text transform="translate(0 275.60) scale(1.050 1)" font-size="17.90" font-weight="bold"><tspan x="0.04" dy="2.32" font-size="21.0">−</tspan><tspan x="12.37 20.81 26.14" dy="-2.32">1.0</tspan></text>
<text transform="translate(0 243.60) scale(1.050 1)" font-size="17.90" font-weight="bold"><tspan x="0.04" dy="2.32" font-size="21.0">−</tspan><tspan x="13.05 21.05 26.10" dy="-2.32">0.8</tspan></text>
<text transform="translate(0 211.60) scale(1.050 1)" font-size="17.90" font-weight="bold"><tspan x="0.04" dy="2.32" font-size="21.0">−</tspan><tspan x="13.05 21.05 26.07" dy="-2.32">0.6</tspan></text>
<text transform="translate(0 179.60) scale(1.050 1)" font-size="17.90" font-weight="bold"><tspan x="0.04" dy="2.32" font-size="21.0">−</tspan><tspan x="13.05 21.05 26.14" dy="-2.32">0.4</tspan></text>
<text transform="translate(0 147.60) scale(1.050 1)" font-size="17.90" font-weight="bold"><tspan x="0.04" dy="2.32" font-size="21.0">−</tspan><tspan x="13.05 21.05 26.11" dy="-2.32">0.2</tspan></text>
<text transform="translate(0 115.60) scale(1.050 1)" font-size="17.90" font-weight="bold"><tspan x="13.05 21.05 26.14">0.0</tspan></text>
<text transform="translate(0 83.60) scale(1.050 1)" font-size="17.90" font-weight="bold"><tspan x="13.05 21.05 26.11">0.2</tspan></text>
<text transform="translate(0 51.60) scale(1.050 1)" font-size="17.90" font-weight="bold"><tspan x="13.05 21.05 26.14">0.4</tspan></text>
<text transform="translate(136.75 130.00) scale(1.0000 1.0000)" font-size="18.30" font-weight="bold" text-anchor="middle">1</text>
<text transform="translate(233.80 130.00) scale(1.0000 1.0000)" font-size="18.30" font-weight="bold" text-anchor="middle">2</text>
<text transform="translate(330.85 130.00) scale(1.0000 1.0000)" font-size="18.30" font-weight="bold" text-anchor="middle">3</text>
<text transform="translate(428.20 130.00) scale(0.8800 1.0000)" font-size="18.30" font-weight="bold" text-anchor="middle">4</text>
<text transform="translate(0 115.95) scale(1.0000 1)" font-size="18.20" font-weight="bold" ><tspan x="438.14" font-style="italic">a</tspan></text>
<text transform="translate(0 187.35) scale(1.0000 1)" font-size="14.70" font-weight="bold" ><tspan x="362.95" font-style="italic">U</tspan><tspan x="374.60" stroke="none">(</tspan><tspan x="379.78" font-style="italic">a</tspan><tspan x="387.28" stroke="none">)</tspan></text>
<text transform="translate(363.45 213.72) skewX(-14) scale(1.1 1)" font-size="14.7" font-weight="bold" font-style="italic" stroke-width="0.1">f</text>
<text transform="translate(369.68 217.47) scale(1.1000 1.0000)" font-size="12.50" font-weight="bold" text-anchor="start">+</text>
<text transform="translate(0 213.72) scale(1.0000 1)" font-size="14.70" font-weight="bold" ><tspan x="378.65" stroke="none">(</tspan><tspan x="384.03" font-style="italic">a</tspan><tspan x="391.78" stroke="none">)</tspan></text>
<text transform="translate(363.45 239.72) skewX(-14) scale(1.1 1)" font-size="14.7" font-weight="bold" font-style="italic" stroke-width="0.1">f</text>
<text transform="translate(369.68 243.97) scale(1.1000 1.0000)" font-size="12.50" font-weight="bold" text-anchor="start">−</text>
<text transform="translate(0 239.72) scale(1.0000 1)" font-size="14.70" font-weight="bold" ><tspan x="378.65" stroke="none">(</tspan><tspan x="384.03" font-style="italic">a</tspan><tspan x="391.78" stroke="none">)</tspan></text></g>
</svg>
</body></html>
